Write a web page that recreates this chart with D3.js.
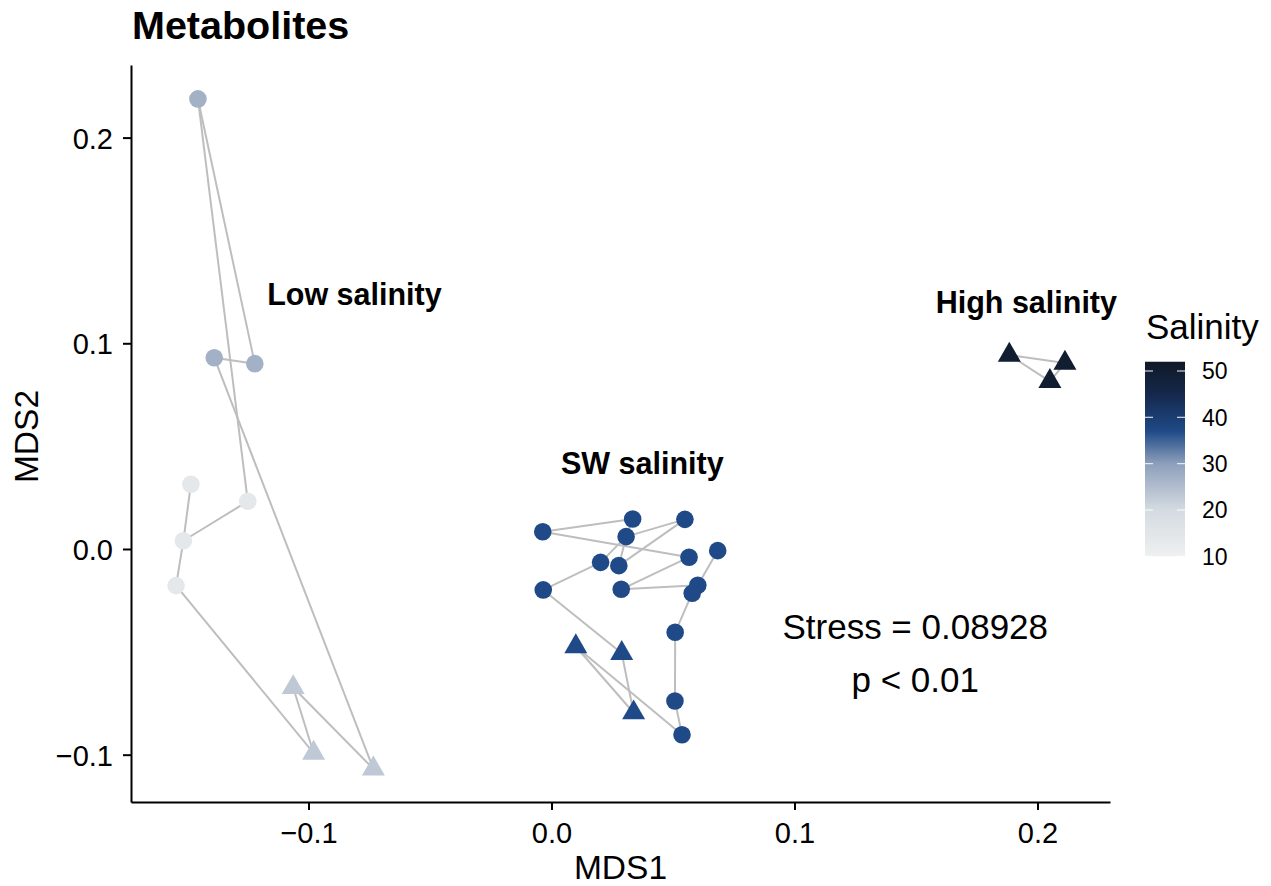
<!DOCTYPE html>
<html>
<head>
<meta charset="utf-8">
<script src="https://cdn.jsdelivr.net/npm/d3@7"></script>
<style>
  body { margin: 0; background: #fff; }
  svg { display: block; }
  text { font-family: "Liberation Sans", Arial, Helvetica, sans-serif; fill: #000; }
</style>
</head>
<body>
<svg id="chart" width="1271" height="886"></svg>
<script>
// NMDS ordination of metabolite profiles
const sampleIds = ["L1","L2","L3","L4","L5","L6","L7","LT1","LT2","LT3",
  "S1","S2","S3","S4","S5","S6","S7","S8","S9","S10","S11","S12","S13","S14","S15",
  "ST1","ST2","ST3","H1","H2","H3"];
const mds1 = [-0.1455,-0.1388,-0.1221,-0.1484,-0.1250,-0.1515,-0.1545,-0.1063,-0.0979,-0.0733,
  -0.0036,0.0334,0.0549,0.0307,0.0202,0.0277,0.0566,0.0684,-0.0034,0.0287,0.0602,0.0579,0.0509,0.0508,0.0537,
  0.0100,0.0289,0.0338,0.1884,0.2113,0.2051];
const mds2 = [0.2188,0.0930,0.0901,0.0315,0.0232,0.0040,-0.0178,-0.0673,-0.0992,-0.1069,
  0.0084,0.0146,0.0144,0.0060,-0.0065,-0.0081,-0.0040,-0.0008,-0.0199,-0.0196,-0.0176,-0.0215,-0.0405,-0.0739,-0.0903,
  -0.0474,-0.0507,-0.0796,0.0943,0.0904,0.0815];
const shapes = ["circle","circle","circle","circle","circle","circle","circle","triangle","triangle","triangle",
  "circle","circle","circle","circle","circle","circle","circle","circle","circle","circle","circle","circle","circle","circle","circle",
  "triangle","triangle","triangle","triangle","triangle","triangle"];
const salinity = [27,27,27,14,14,14,14,23,23,23,
  37,37,37,37,37,37,37,37,37,37,37,37,37,37,37,
  37,37,37,50,50,50];

// sample-to-sample connections
const edges = [
  ["L1","L3"],["L1","L5"],["L2","L3"],["L2","LT3"],["LT1","LT3"],["LT1","LT2"],["LT2","L7"],["L7","L6"],["L6","L4"],["L6","L5"],
  ["S1","S2"],["S1","S7"],["S2","S4"],["S4","S3"],["S3","S6"],["S4","S5"],["S4","S6"],["S5","S9"],["S9","ST2"],["ST2","ST3"],
  ["ST3","ST1"],["ST1","S15"],["S15","S14"],["S14","S13"],["S13","S12"],["S12","S11"],["S11","S8"],["S11","S10"],["S10","S7"],
  ["H1","H2"],["H1","H3"],["H2","H3"]
];

const groupLabels = ["Low salinity","SW salinity","High salinity"];
const groupLabelX = [-0.0811, 0.0374, 0.1954];
const groupLabelY = [0.1237, 0.0416, 0.1197];

const statLines = ["Stress = 0.08928","p < 0.01"];
const statX = 0.1497;
const statY = [-0.0378, -0.0636];

const xTicks = [-0.1, 0.0, 0.1, 0.2];
const yTicks = [-0.1, 0.0, 0.1, 0.2];
const legendTicks = [10, 20, 30, 40, 50];
const salinityLimits = [10, 52];
const gradientStops = [10, 20, 30, 37, 45, 52];
const gradientColors = ["#eff0f0","#d4dbe1","#8d9fbb","#1f4a87","#15284c","#0f1826"];

const svg = d3.select("#chart");
const panel = {left: 131, right: 1110, top: 65, bottom: 802};

const x = d3.scaleLinear().domain([-0.17305, 0.22984]).range([panel.left, panel.right]);
const y = d3.scaleLinear().domain([-0.12300, 0.23529]).range([panel.bottom, panel.top]);
const color = d3.scaleLinear().domain(gradientStops).range(gradientColors).interpolate(d3.interpolateRgb);

const samples = sampleIds.map((id, i) => ({id, x: mds1[i], y: mds2[i], shape: shapes[i], sal: salinity[i]}));
const byId = new Map(samples.map(d => [d.id, d]));

// connecting segments
svg.append("g").selectAll("line").data(edges).join("line")
  .attr("x1", d => x(byId.get(d[0]).x)).attr("y1", d => y(byId.get(d[0]).y))
  .attr("x2", d => x(byId.get(d[1]).x)).attr("y2", d => y(byId.get(d[1]).y))
  .attr("stroke", "#bebebe").attr("stroke-width", 2);

// sample points
const tri = d3.symbol(d3.symbolTriangle, 229);
const pts = svg.append("g");
pts.selectAll("circle").data(samples.filter(d => d.shape === "circle")).join("circle")
  .attr("cx", d => x(d.x)).attr("cy", d => y(d.y)).attr("r", 8.8)
  .attr("fill", d => color(d.sal));
pts.selectAll("path").data(samples.filter(d => d.shape === "triangle")).join("path")
  .attr("d", tri).attr("transform", d => `translate(${x(d.x)},${y(d.y)})`)
  .attr("fill", d => color(d.sal));

// axes
const fmt = d3.format(".1f");
const xAxis = svg.append("g").attr("transform", `translate(0,${panel.bottom})`)
  .call(d3.axisBottom(x).tickValues(xTicks).tickFormat(fmt).tickSize(8).tickSizeOuter(0).tickPadding(12));
const yAxis = svg.append("g").attr("transform", `translate(${panel.left},0)`)
  .call(d3.axisLeft(y).tickValues(yTicks).tickFormat(fmt).tickSize(8).tickSizeOuter(0).tickPadding(10));
[xAxis, yAxis].forEach(g => {
  g.select(".domain").attr("stroke", "#000").attr("stroke-width", 2);
  g.selectAll(".tick line").attr("stroke", "#000").attr("stroke-width", 2);
  g.selectAll(".tick text").attr("font-size", 29).attr("fill", "#000")
    .style("font-family", '"Liberation Sans", Arial, Helvetica, sans-serif');
});
yAxis.selectAll(".tick text").attr("dy", "0.36em");

// axis titles
svg.append("text").attr("x", (panel.left + panel.right) / 2).attr("y", 879)
  .attr("text-anchor", "middle").attr("font-size", 33.5).text("MDS1");
svg.append("text").attr("transform", `translate(38,${(panel.top + panel.bottom) / 2 + 3}) rotate(-90)`)
  .attr("text-anchor", "middle").attr("font-size", 33.5).text("MDS2");

// plot title
svg.append("text").attr("x", 132).attr("y", 38.5).attr("font-size", 39.5).attr("font-weight", "bold").text("Metabolites");

// group labels
svg.append("g").selectAll("text").data(groupLabels).join("text")
  .attr("x", (d, i) => x(groupLabelX[i])).attr("y", (d, i) => y(groupLabelY[i]))
  .attr("dy", "0.35em").attr("text-anchor", "middle")
  .attr("font-size", 30.5).attr("font-weight", "bold").text(d => d);

// stress annotation
svg.append("g").selectAll("text").data(statLines).join("text")
  .attr("x", x(statX)).attr("y", (d, i) => y(statY[i]))
  .attr("dy", "0.35em").attr("text-anchor", "middle").attr("font-size", 35).text(d => d);

// colour bar legend
const bar = {x: 1145, w: 40};
const ly = d3.scaleLinear().domain([10, 50]).range([556.3, 371]);
const defs = svg.append("defs");
const grad = defs.append("linearGradient").attr("id", "salGrad")
  .attr("x1", 0).attr("y1", 1).attr("x2", 0).attr("y2", 0);
d3.range(0, 1.0001, 0.02).forEach(t => {
  const v = salinityLimits[0] + t * (salinityLimits[1] - salinityLimits[0]);
  grad.append("stop").attr("offset", t).attr("stop-color", color(v));
});
svg.append("text").attr("x", 1146).attr("y", 339).attr("font-size", 35).text("Salinity");
svg.append("rect").attr("x", bar.x).attr("y", ly(salinityLimits[1]))
  .attr("width", bar.w).attr("height", ly(salinityLimits[0]) - ly(salinityLimits[1]))
  .attr("fill", "url(#salGrad)");
const lt = svg.append("g").selectAll("g").data(legendTicks).join("g")
  .attr("transform", d => `translate(0,${ly(d)})`);
lt.append("line").attr("x1", bar.x).attr("x2", bar.x + 8).attr("stroke", "#fff").attr("stroke-width", 1.2).attr("opacity", 0.8);
lt.append("line").attr("x1", bar.x + bar.w - 8).attr("x2", bar.x + bar.w).attr("stroke", "#fff").attr("stroke-width", 1.2).attr("opacity", 0.8);
lt.append("text").attr("x", 1202).attr("dy", "0.36em").attr("font-size", 23).text(d => d);
</script>
</body>
</html>
